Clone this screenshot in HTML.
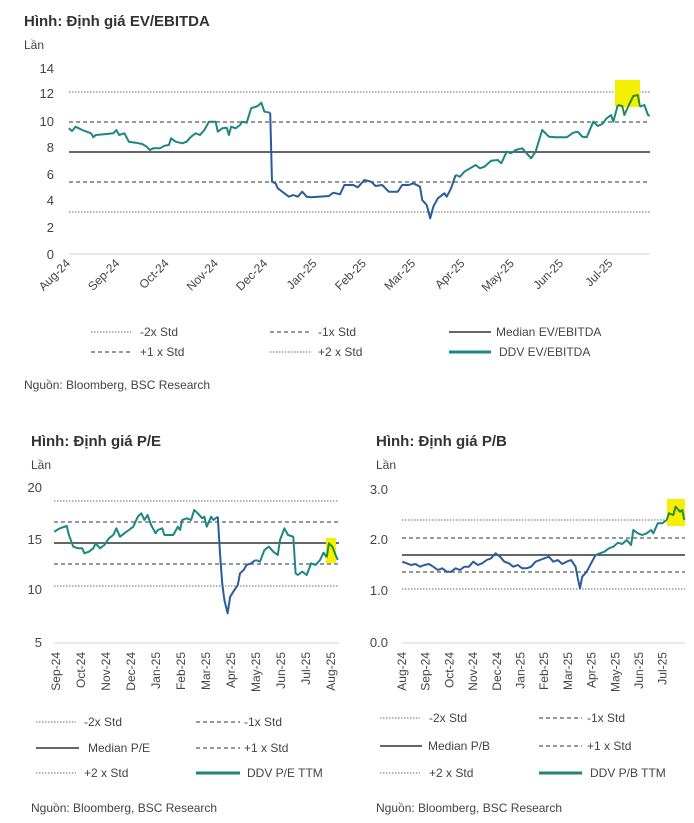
<!DOCTYPE html>
<html><head><meta charset="utf-8">
<style>
body{margin:0;background:#fff;}
svg{display:block;font-family:"Liberation Sans","DejaVu Sans",sans-serif;}
</style></head>
<body>
<svg id="s" width="694" height="823" viewBox="0 0 694 823" xmlns="http://www.w3.org/2000/svg">
<rect width="694" height="823" fill="#fff"/>
<g fill="#333" font-size="15" font-weight="bold">
<text x="24" y="26">Hình: Định giá EV/EBITDA</text>
<text x="31" y="446">Hình:  Định giá P/E</text>
<text x="376" y="446">Hình:  Định giá P/B</text>
</g>
<g fill="#444" font-size="12">
<text x="24" y="49">Lần</text>
<text x="31" y="469">Lần</text>
<text x="376" y="469">Lần</text>
</g>
<g fill="#444" font-size="13" text-anchor="end">
<text x="54" y="73">14</text><text x="54" y="98">12</text><text x="54" y="126">10</text><text x="54" y="152">8</text><text x="54" y="179">6</text><text x="54" y="205">4</text><text x="54" y="232">2</text><text x="54" y="259">0</text>
<text x="42" y="492">20</text><text x="42" y="544">15</text><text x="42" y="594">10</text><text x="42" y="647">5</text>
<text x="388" y="494">3.0</text><text x="388" y="544">2.0</text><text x="388" y="595">1.0</text><text x="388" y="647">0.0</text>
</g>
<g id="lines"></g>
<g id="labels" fill="#444" font-size="12"></g>
<g fill="#444" font-size="12">
<text x="140" y="336">-2x Std</text><text x="318" y="336">-1x Std</text><text x="496" y="336">Median EV/EBITDA</text>
<text x="140" y="356">+1 x Std</text><text x="318" y="356">+2 x Std</text><text x="499" y="356">DDV EV/EBITDA</text>
<text x="24" y="389">Nguồn: Bloomberg, BSC Research</text>
<text x="84" y="726">-2x Std</text><text x="244" y="726">-1x Std</text>
<text x="88" y="752">Median P/E</text><text x="244" y="752">+1 x Std</text>
<text x="84" y="777">+2 x Std</text><text x="247" y="777">DDV P/E TTM</text>
<text x="31" y="812">Nguồn: Bloomberg, BSC Research</text>
<text x="429" y="722">-2x Std</text><text x="587" y="722">-1x Std</text>
<text x="428" y="750">Median P/B</text><text x="587" y="750">+1 x Std</text>
<text x="429" y="777">+2 x Std</text><text x="590" y="777">DDV P/B TTM</text>
<text x="376" y="812">Nguồn: Bloomberg, BSC Research</text>
</g>
</svg>
<script>
var NS="http://www.w3.org/2000/svg",L=document.getElementById("lines"),LB=document.getElementById("labels");
function el(t,a,p){var e=document.createElementNS(NS,t);for(var k in a)e.setAttribute(k,a[k]);(p||L).appendChild(e);return e;}
function hl(x1,x2,y,st){var a={x1:x1,x2:x2,y1:y,y2:y,stroke:"#666","stroke-width":1.2};
 if(st=="dot"){a["stroke-dasharray"]="1.5 1.5";a.stroke="#888";}
 if(st=="dash"){a["stroke-dasharray"]="4 3";a.stroke="#777";a["stroke-width"]=1.5;}
 if(st=="solid"){a.stroke="#333";a["stroke-width"]=1.6;}
 if(st=="axis"){a.stroke="#ddd";}
 if(st=="teal"){a.stroke="#1e8585";a["stroke-width"]=3;}
 el("line",a);}
function rect(x1,x2,y1,y2){el("rect",{x:x1,y:y1,width:x2-x1,height:y2-y1,fill:"#f5f000"});}
function path(pts,ox,oy,col,w){var d="";pts.forEach(function(p,i){d+=(i?"L":"M")+(p[0]/2.25).toFixed(1)+" "+(p[1]/3+oy).toFixed(1);});
 el("path",{d:d,fill:"none",stroke:col,"stroke-width":w||2,"stroke-linejoin":"round"});}
function seg(pts,ox,oy,cuts){// cuts: [[xmax,color],...]
 var cur=[],ci=0;
 pts.forEach(function(p){cur.push(p);if(ci<cuts.length-1&&p[0]>=cuts[ci][0]){path(cur,ox,oy,cuts[ci][1]);cur=[p];ci++;}});
 path(cur,ox,oy,cuts[ci][1]);}
// Chart 1
hl(69,650,254,"axis");hl(69,650,92,"dot");hl(69,650,122,"dash");hl(69,650,152,"solid");hl(69,650,182,"dash");hl(69,650,212,"dot");
rect(615,640,80,107);
var e1=[[155,385],[162,393],[170,380],[185,390],[195,395],[205,400],[210,412],[215,405],[240,402],[255,400],[262,390],[268,405],[280,400],[290,425],[305,428],[320,432],[330,440],[337,450],[345,445],[360,445],[370,437],[380,435],[385,415],[395,425],[410,430],[420,425],[430,410],[440,400],[450,405],[460,390],[470,365],[485,365],[490,395],[500,385],[510,383],[515,405],[520,380],[530,385],[540,375],[545,365],[555,368],[565,325],[580,318],[588,308],[595,335],[608,338],[612,545],[620,550],[625,565],[640,580],[650,590],[660,585],[670,590],[680,575],[690,590],[700,592],[740,588],[750,578],[765,583],[775,555],[795,555],[805,562],[820,540],[835,545],[845,558],[860,555],[875,575],[895,575],[905,555],[920,555],[930,550],[945,560],[950,600],[960,615],[968,655],[975,620],[985,595],[1000,580],[1005,590],[1015,565],[1025,525],[1035,530],[1045,515],[1070,495],[1080,505],[1090,500],[1105,482],[1120,480],[1128,490],[1140,455],[1150,460],[1160,450],[1175,445],[1195,475],[1205,455],[1220,390],[1235,410],[1250,412],[1275,412],[1290,398],[1300,395],[1310,410],[1320,412],[1335,365],[1345,378],[1355,372],[1365,355],[1375,345],[1380,365],[1390,315],[1400,318],[1405,345],[1415,315],[1425,288],[1435,285],[1440,320],[1450,315],[1458,345],[1462,348]];
seg(e1,0,0,[[608,"#1e8585"],[1025,"#2a5c9c"],[1390,"#1e8585"],[1440,"#2e8b3a"],[9999,"#1e8585"]]);
var m1=["Aug-24","Sep-24","Oct-24","Nov-24","Dec-24","Jan-25","Feb-25","Mar-25","Apr-25","May-25","Jun-25","Jul-25"];
m1.forEach(function(m,i){var x=71+i*49.3;var t=el("text",{x:x,y:264,"text-anchor":"end",transform:"rotate(-45 "+x+" 264)","font-size":12},LB);t.textContent=m;});
// legend 1
hl(91,131,332,"dot");hl(270,311,332,"dash");hl(449,491,332,"solid");
hl(91,131,352,"dash");hl(270,311,352,"dot");hl(449,491,352,"teal");
// Chart 2
hl(54,339,643,"axis");hl(54,339,501,"dot");hl(54,339,522,"dash");hl(54,339,543,"solid");hl(54,339,564,"dash");hl(54,339,586,"dot");
rect(326,336,538,563);
var e2=[[122,335],[135,325],[150,318],[155,345],[165,380],[175,385],[185,385],[190,400],[200,395],[210,385],[215,370],[225,385],[235,375],[245,355],[255,345],[262,325],[270,350],[280,340],[290,330],[300,320],[310,290],[318,280],[325,300],[332,285],[340,315],[350,340],[355,330],[365,325],[370,345],[390,345],[400,320],[405,330],[410,300],[420,295],[430,300],[437,270],[445,280],[455,295],[460,290],[465,320],[475,290],[480,300],[490,290],[495,400],[500,490],[505,540],[512,580],[518,530],[525,515],[535,495],[540,460],[548,450],[555,435],[565,430],[575,420],[585,425],[595,390],[605,380],[615,395],[625,405],[630,360],[640,325],[648,345],[660,350],[665,460],[670,465],[680,455],[690,465],[700,430],[710,435],[720,420],[728,398],[735,412],[740,370],[748,380],[755,405],[760,420]];
seg(e2,0,420,[[490,"#1e8585"],[575,"#2a5c9c"],[733,"#1e8585"],[755,"#2e8b3a"],[9999,"#1e8585"]]);
var m2=["Sep-24","Oct-24","Nov-24","Dec-24","Jan-25","Feb-25","Mar-25","Apr-25","May-25","Jun-25","Jul-25","Aug-25"];
m2.forEach(function(m,i){var x=60+i*25;var t=el("text",{x:x,y:652,"text-anchor":"end",transform:"rotate(-90 "+x+" 652)","font-size":12},LB);t.textContent=m;});
hl(36,76,722,"dot");hl(196,240,722,"dash");
hl(36,79,748,"solid");hl(196,240,748,"dash");
hl(36,76,773,"dot");hl(196,240,773,"teal");
// Chart 3
hl(402,685,643,"axis");hl(402,685,520,"dot");hl(402,685,538,"dash");hl(402,685,555,"solid");hl(402,685,572,"dash");hl(402,685,589,"dot");
rect(667,685,499,526);
var e3=[[905,425],[915,430],[925,435],[935,432],[945,440],[955,435],[965,432],[975,440],[985,450],[995,445],[1005,455],[1015,455],[1025,445],[1035,450],[1045,440],[1055,440],[1065,425],[1075,435],[1085,430],[1095,420],[1105,415],[1115,400],[1125,410],[1135,425],[1145,430],[1155,440],[1165,435],[1175,445],[1185,445],[1195,440],[1205,425],[1215,420],[1225,415],[1235,410],[1245,425],[1255,420],[1265,432],[1275,425],[1285,420],[1295,440],[1300,475],[1305,505],[1310,470],[1320,455],[1330,430],[1340,405],[1350,400],[1360,395],[1370,385],[1380,380],[1390,368],[1400,372],[1410,360],[1420,375],[1425,330],[1435,340],[1445,345],[1455,340],[1465,330],[1470,340],[1480,310],[1490,310],[1500,300],[1505,280],[1515,285],[1520,260],[1530,275],[1535,270],[1540,300]];
seg(e3,0,420,[[1335,"#2a5c9c"],[1500,"#1e8585"],[9999,"#2e8b3a"]]);
var m3=["Aug-24","Sep-24","Oct-24","Nov-24","Dec-24","Jan-25","Feb-25","Mar-25","Apr-25","May-25","Jun-25","Jul-25"];
m3.forEach(function(m,i){var x=406+i*23.7;var t=el("text",{x:x,y:652,"text-anchor":"end",transform:"rotate(-90 "+x+" 652)","font-size":12},LB);t.textContent=m;});
hl(380,420,718,"dot");hl(539,582,718,"dash");
hl(380,422,746,"solid");hl(539,582,746,"dash");
hl(380,420,773,"dot");hl(539,582,773,"teal");
</script>
</body></html>
